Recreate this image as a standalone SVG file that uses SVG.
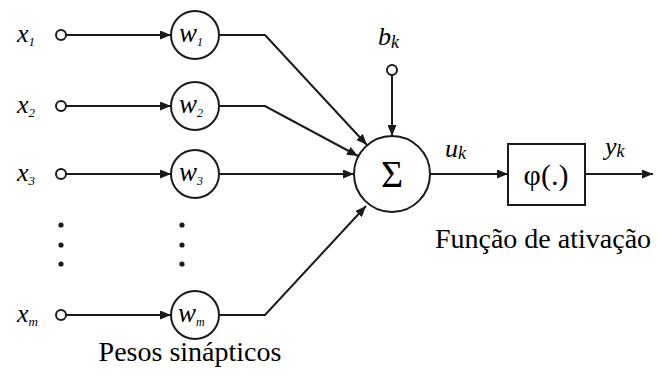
<svg xmlns="http://www.w3.org/2000/svg" width="658" height="376" viewBox="0 0 658 376">
<defs>
<marker id="ah" markerUnits="userSpaceOnUse" markerWidth="11" markerHeight="9" refX="11" refY="4.5" orient="auto">
<path d="M0,0 L11,4.5 L0,9 z" fill="#1a1a1a"/>
</marker>
</defs>
<rect width="658" height="376" fill="#fff"/>
<g id="connectors" stroke="#1a1a1a" stroke-width="2" fill="none">
<line x1="66" y1="35" x2="171" y2="35" marker-end="url(#ah)"/>
<line x1="66" y1="106" x2="171" y2="106" marker-end="url(#ah)"/>
<line x1="66" y1="174" x2="171" y2="174" marker-end="url(#ah)"/>
<line x1="66" y1="315" x2="171" y2="315" marker-end="url(#ah)"/>
<polyline points="219,35 265,35 367,145" marker-end="url(#ah)"/>
<polyline points="219,106 265,106 358,156" marker-end="url(#ah)"/>
<line x1="219" y1="174" x2="354" y2="174" marker-end="url(#ah)"/>
<polyline points="219,315 265,315 366,206" marker-end="url(#ah)"/>
<line x1="392" y1="75" x2="392" y2="136" marker-end="url(#ah)"/>
<line x1="430" y1="174" x2="508" y2="174" marker-end="url(#ah)"/>
<line x1="585" y1="174" x2="653" y2="174" marker-end="url(#ah)"/>
</g>
<g id="x1"><circle cx="61" cy="35" r="5" fill="#fff" stroke="#1a1a1a" stroke-width="2"/><text style="font-family:'Liberation Serif';font-style:italic" x="17" y="42" font-size="26">x<tspan font-size="13" dy="4">1</tspan></text></g>
<g id="x2"><circle cx="61" cy="106" r="5" fill="#fff" stroke="#1a1a1a" stroke-width="2"/><text style="font-family:'Liberation Serif';font-style:italic" x="17" y="113" font-size="26">x<tspan font-size="13" dy="4">2</tspan></text></g>
<g id="x3"><circle cx="61" cy="174" r="5" fill="#fff" stroke="#1a1a1a" stroke-width="2"/><text style="font-family:'Liberation Serif';font-style:italic" x="17" y="181" font-size="26">x<tspan font-size="13" dy="4">3</tspan></text></g>
<g id="xm"><circle cx="61" cy="315" r="5" fill="#fff" stroke="#1a1a1a" stroke-width="2"/><text style="font-family:'Liberation Serif';font-style:italic" x="17" y="322" font-size="26">x<tspan font-size="13" dy="4">m</tspan></text></g>
<g id="w1"><circle cx="195" cy="35" r="24" fill="#fff" stroke="#1a1a1a" stroke-width="2"/><text style="font-family:'Liberation Serif';font-style:italic" x="179" y="42" font-size="27">w<tspan font-size="12" dy="4">1</tspan></text></g>
<g id="w2"><circle cx="195" cy="106" r="24" fill="#fff" stroke="#1a1a1a" stroke-width="2"/><text style="font-family:'Liberation Serif';font-style:italic" x="179" y="113" font-size="27">w<tspan font-size="12" dy="4">2</tspan></text></g>
<g id="w3"><circle cx="195" cy="174" r="24" fill="#fff" stroke="#1a1a1a" stroke-width="2"/><text style="font-family:'Liberation Serif';font-style:italic" x="179" y="181" font-size="27">w<tspan font-size="12" dy="4">3</tspan></text></g>
<g id="wm"><circle cx="195" cy="315" r="24" fill="#fff" stroke="#1a1a1a" stroke-width="2"/><text style="font-family:'Liberation Serif';font-style:italic" x="178" y="322" font-size="27">w<tspan font-size="12" dy="4">m</tspan></text></g>
<g id="bias"><circle cx="392" cy="70" r="5" fill="#fff" stroke="#1a1a1a" stroke-width="2"/><text style="font-family:'Liberation Serif';font-style:italic" x="378" y="45" font-size="26">b<tspan font-size="18" dy="3">k</tspan></text></g>
<g id="uk"><text style="font-family:'Liberation Serif';font-style:italic" x="445" y="157" font-size="26">u<tspan font-size="18" dy="2">k</tspan></text></g>
<g id="yk"><text style="font-family:'Liberation Serif';font-style:italic" x="605" y="155" font-size="26">y<tspan font-size="18" dy="2">k</tspan></text></g>
<g id="dots-x" fill="#1a1a1a"><circle cx="61" cy="225" r="2.6"/><circle cx="61" cy="245" r="2.6"/><circle cx="61" cy="264" r="2.6"/></g>
<g id="dots-w" fill="#1a1a1a"><circle cx="182" cy="225" r="2.6"/><circle cx="182" cy="245" r="2.6"/><circle cx="182" cy="264" r="2.6"/></g>
<g id="sum"><circle cx="392" cy="174" r="38" fill="#fff" stroke="#1a1a1a" stroke-width="2"/><text style="font-family:'Liberation Serif'" x="392" y="187" font-size="38" text-anchor="middle">Σ</text></g>
<g id="phi"><rect x="508" y="144" width="77" height="61" fill="#fff" stroke="#1a1a1a" stroke-width="2"/><text style="font-family:'Liberation Serif'" x="546" y="185" font-size="30" text-anchor="middle">φ(.)</text></g>
<text style="font-family:'Liberation Serif'" x="543" y="248" font-size="28" text-anchor="middle">Função de ativação</text>
<text style="font-family:'Liberation Serif'" x="190" y="361" font-size="28" text-anchor="middle">Pesos sinápticos</text>
</svg>
